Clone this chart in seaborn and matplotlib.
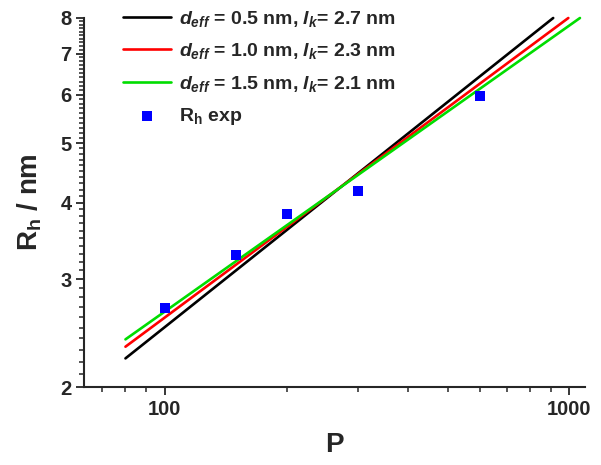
import numpy as np
import pandas as pd
import matplotlib
matplotlib.use("Agg")
import matplotlib.pyplot as plt
import seaborn as sns
from matplotlib.ticker import FixedLocator, NullFormatter, FuncFormatter

# so lieu doc tu hinh
P_exp = [100, 150, 200, 300, 600]
Rh_exp = [2.69, 3.28, 3.83, 4.18, 5.97]

# hai diem dau/cuoi cua moi duong (log-log nen la duong thang)
P_black = [80, 912]
R_black = [2.227, 8.0]
P_red = [80, 994]
R_red = [2.327, 8.0]
P_green = [80, 1062]
R_green = [2.392, 8.0]

labels = [r"$d_{eff}$ = 0.5 nm, $l_k$= 2.7 nm",
          r"$d_{eff}$ = 1.0 nm, $l_k$= 2.3 nm",
          r"$d_{eff}$ = 1.5 nm, $l_k$= 2.1 nm"]
colors = ["black", "#ff0000", "#00dd00"]

y_major = [2, 3, 4, 5, 6, 7, 8]
x_major = [100, 1000]

sns.set_style("ticks")
plt.rcParams['font.family'] = ['Liberation Sans', 'DejaVu Sans']
plt.rcParams['font.weight'] = 'bold'
plt.rcParams['mathtext.fontset'] = 'custom'
plt.rcParams['mathtext.it'] = 'Liberation Sans:bold:italic'
plt.rcParams['mathtext.rm'] = 'Liberation Sans:bold'
plt.rcParams['mathtext.bf'] = 'Liberation Sans:bold'

fig = plt.figure(figsize=(6.01, 4.65), dpi=100)
ax = fig.add_axes([0.1398, 0.1677, 0.9734 - 0.1398, 0.9613 - 0.1677])

lines = [(P_black, R_black), (P_red, R_red), (P_green, R_green)]
for (px, ry), c, lab in zip(lines, colors, labels):
    sns.lineplot(x=px, y=ry, color=c, lw=1.9, label=lab, ax=ax, clip_on=False)

sns.scatterplot(x=P_exp, y=Rh_exp, marker='s', s=60, color='#0000ff',
                linewidth=0, label=r"R$_\mathrm{h}$ exp", ax=ax, zorder=5)

ax.set_xscale('log')
ax.set_yscale('log')
ax.set_xlim(63.2, 1093)
ax.set_ylim(2, 8)

ax.xaxis.set_major_locator(FixedLocator(x_major))
ax.xaxis.set_minor_locator(FixedLocator([70, 80, 90, 200, 300, 400, 500, 600, 700, 800, 900]))
ax.xaxis.set_major_formatter(FuncFormatter(lambda v, p: "%d" % v))
ax.xaxis.set_minor_formatter(NullFormatter())
ax.yaxis.set_major_locator(FixedLocator(y_major))
ax.yaxis.set_minor_locator(FixedLocator(np.arange(2.1, 8.0, 0.1)))
ax.yaxis.set_major_formatter(FuncFormatter(lambda v, p: "%d" % round(v)))
ax.yaxis.set_minor_formatter(NullFormatter())

ax.tick_params(which='major', direction='out', length=6, width=1.3, labelsize=14.5, pad=3)
ax.tick_params(which='minor', direction='out', length=3.5, width=1.1)
for lbl in ax.get_xticklabels() + ax.get_yticklabels():
    lbl.set_fontweight('bold')

sns.despine(ax=ax)
ax.spines['left'].set_linewidth(1.5)
ax.spines['bottom'].set_linewidth(1.5)

ax.set_xlabel("P", fontsize=20, fontweight='bold', labelpad=10)
ax.set_ylabel(r"R$_\mathrm{h}$ / nm", fontsize=20, fontweight='bold', labelpad=12)

leg = ax.legend(loc='upper left', bbox_to_anchor=(0.062, 1.046), frameon=False,
                fontsize=14, handlelength=2.47, handletextpad=0.4,
                labelspacing=0.64, scatterpoints=1, borderaxespad=0)
for t in leg.get_texts():
    t.set_fontweight('bold')

plt.savefig("out.png", dpi=100)
